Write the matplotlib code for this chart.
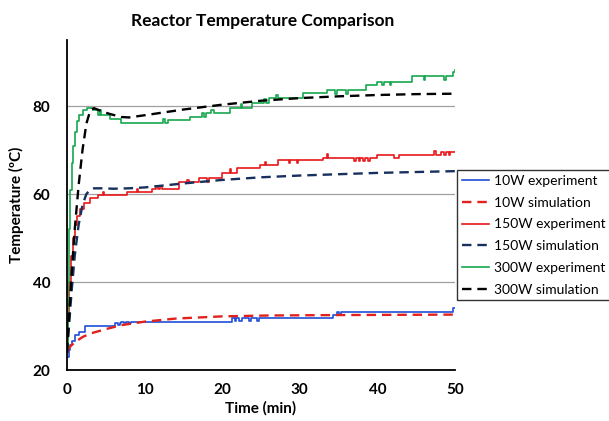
import matplotlib.pyplot as plt
import numpy as np

plt.rcParams['font.family'] = ['Lato', 'DejaVu Sans']

## Data ---------------------------------------------

# 10W experiment (step data)
t_10_exp = [0, 0.2, 0.4, 0.7, 1.0, 1.6, 2.3, 6.2, 6.6, 6.8, 7.0, 7.3, 7.6, 8.0, 8.2,
            21.3, 21.6, 21.8, 22.2, 22.5, 23.5, 23.7, 24.5, 24.7,
            34.3, 34.8, 35.0, 35.3, 49.8, 50.0]
T_10_exp = [23, 24.5, 25.7, 26.5, 28, 28.6, 30, 30.7, 30.2, 30.7, 31, 30.6, 31, 30.6, 31,
            31.8, 31.2, 31.8, 31.2, 31.8, 31.2, 31.8, 31.2, 31.8,
            32.6, 33.1, 32.6, 33.1, 34.0, 34.0]

# 10W simulation
t_10_sim = [0, 0.5, 1, 2, 3, 5, 7, 10, 14, 20, 26, 35, 50]
T_10_sim = [24.5, 25.5, 26.3, 27.5, 28.3, 29.3, 30.2, 31.0, 31.7, 32.2, 32.4, 32.5, 32.6]

# 150W experiment (step data)
t_150_exp = [0, 0.15, 0.3, 0.5, 0.8, 1.0, 1.3, 1.7, 2.2, 3.0, 4.0, 4.6, 4.8, 7.7,
             9.0, 9.2, 11.0, 11.5, 11.7, 12.0, 12.2, 14.5, 15.5, 15.7, 17.0,
             18.0, 18.3, 20.0, 21.0, 21.2, 21.9, 24.9, 25.5, 25.7, 27.2,
             28.6, 28.8, 29.6, 29.8, 33.0, 33.5, 33.7, 37.0, 37.2, 37.6, 37.8,
             38.2, 38.4, 38.8, 39.0, 40.0, 42.2, 42.8, 47.3, 47.5, 48.0, 48.2,
             48.6, 48.8, 49.2, 49.4, 50.0]
T_150_exp = [24, 32, 40, 46, 50, 53, 55, 56.5, 58, 59, 59.7, 60.5, 59.7, 60.5,
             61.2, 60.5, 61.2, 61.8, 61.2, 61.8, 61.2, 62.7, 63.3, 62.7, 63.6,
             62.8, 63.6, 64.8, 65.6, 64.8, 65.9, 66.6, 67.3, 66.6, 67.7,
             67.0, 67.7, 67.0, 67.7, 68.2, 69.0, 68.2, 67.6, 68.2, 67.6, 68.2,
             67.6, 68.2, 67.6, 68.2, 68.9, 68.2, 68.9, 69.8, 68.9, 68.9, 69.5,
             68.8, 69.5, 68.8, 69.5, 69.5]

# 150W simulation
t_150_sim = [0, 0.3, 0.6, 1.0, 1.5, 2.0, 2.5, 3.0, 3.5, 4.5, 6, 8, 10, 15, 20, 25, 30, 35, 40, 45, 50]
T_150_sim = [24, 31, 38, 46, 53, 57.5, 60, 61, 61.3, 61.3, 61.2, 61.3, 61.5, 62.4, 63.2,
             63.8, 64.2, 64.5, 64.8, 65.0, 65.2]

# 300W experiment (step data)
t_300_exp = [0, 0.15, 0.3, 0.45, 0.6, 0.8, 1.0, 1.3, 1.6, 2.0, 2.6, 3.4, 4.0, 4.2, 4.4,
             5.5, 7.0, 12.4, 12.6, 13.0, 15.8, 17.4, 17.6, 17.9, 18.6, 19.0, 21.0,
             22.4, 22.6, 23.8, 25.4, 25.6, 26.0, 27.0, 27.2, 30.4, 33.5, 34.6, 34.8,
             36.0, 36.2, 38.6, 40.0, 40.6, 40.8, 41.6, 41.8, 44.5, 46.0, 46.2,
             48.6, 48.8, 49.8, 50.0]
T_300_exp = [25, 40, 52, 61, 67, 71, 74, 76.5, 78, 79, 79.5, 79, 78, 79, 78,
             77, 76.2, 77, 76.2, 76.9, 77.6, 78.5, 77.6, 78.5, 79.2, 78.5, 79.6,
             80.4, 79.6, 80.7, 81.6, 80.7, 81.8, 82.5, 81.8, 83.0, 83.6, 82.8, 83.6,
             82.8, 83.6, 84.8, 85.5, 84.8, 85.5, 84.8, 85.5, 86.8, 86.0, 86.8,
             86.0, 86.8, 87.7, 88.2]

# 300W simulation
t_300_sim = [0, 0.3, 0.6, 1.0, 1.5, 2.0, 2.5, 3.0, 3.5, 4.5, 5.5, 7.0, 8.0, 10, 15, 20,
             25, 30, 35, 40, 45, 50]
T_300_sim = [24, 33, 42, 52, 62, 70, 76, 79, 79.5, 78.8, 78.2, 77.5, 77.4, 77.9, 79.2, 80.3,
             81.2, 81.8, 82.2, 82.5, 82.7, 82.8]

y_ticks = [20, 40, 60, 80]
x_ticks = [0, 10, 20, 30, 40, 50]

## Plot ---------------------------------------------

fig = plt.figure(figsize=(6.09, 4.21), dpi=100)
ax = fig.add_axes([0.110, 0.121, 0.637, 0.784])

DASH = (4, 2.5)
ax.plot(t_10_exp, T_10_exp, drawstyle='steps-post', color='#1f4fd8', lw=1.2, label='10W experiment')
ax.plot(t_10_sim, T_10_sim, color='#e3211c', lw=1.7, dashes=DASH, label='10W simulation')
ax.plot(t_150_exp, T_150_exp, drawstyle='steps-post', color='#e8181b', lw=1.2, label='150W experiment')
ax.plot(t_150_sim, T_150_sim, color='#17305e', lw=1.7, dashes=DASH, label='150W simulation')
ax.plot(t_300_exp, T_300_exp, drawstyle='steps-post', color='#17a84f', lw=1.2, label='300W experiment')
ax.plot(t_300_sim, T_300_sim, color='black', lw=1.7, dashes=DASH, label='300W simulation')

ax.set_xlim(0, 50)
ax.set_ylim(20, 95)
ax.set_xticks(x_ticks)
ax.set_yticks(y_ticks)
ax.tick_params(axis='y', length=0, labelsize=11, pad=12)
ax.tick_params(axis='x', length=0, labelsize=11, pad=9)
for lbl in ax.get_xticklabels() + ax.get_yticklabels():
    lbl.set_fontweight('bold')
ax.grid(axis='y', color='#a0a0a0', lw=0.9)
ax.set_axisbelow(True)
for s in ['top', 'right']:
    ax.spines[s].set_visible(False)
for s in ['left', 'bottom']:
    ax.spines[s].set_linewidth(1.3)
    ax.spines[s].set_color('black')

ax.set_xlabel('Time (min)', fontsize=11, fontweight='bold', labelpad=3)
ax.set_ylabel('Temperature (ºC)', fontsize=11, fontweight='bold', labelpad=6)
fig.suptitle('Reactor Temperature Comparison', fontsize=12.5, fontweight='bold', x=0.432, y=0.97)

leg = fig.legend(loc='upper left', bbox_to_anchor=(0.750, 0.596), fontsize=10,
                 frameon=True, fancybox=False, handlelength=2.0, handletextpad=0.3,
                 borderpad=0.35, labelspacing=0.7, borderaxespad=0)
leg.get_frame().set_edgecolor('black')
leg.get_frame().set_linewidth(1.0)

fig.savefig('out.png', dpi=100)
